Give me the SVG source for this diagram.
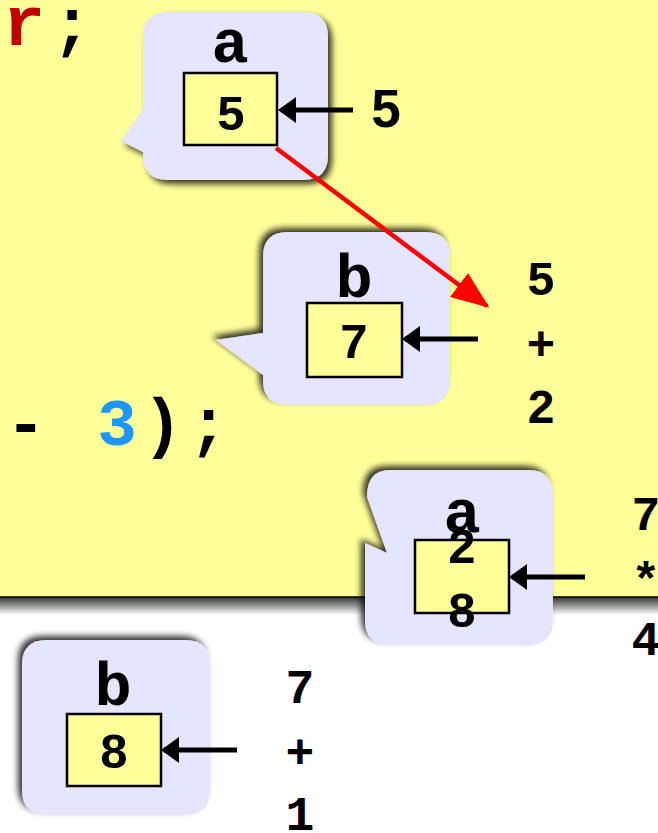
<svg xmlns="http://www.w3.org/2000/svg" width="658" height="833" viewBox="0 0 658 833">
<defs>
<style>
.code{font-family:"Liberation Mono","Courier New",monospace;font-weight:bold;font-size:66px;letter-spacing:6px}
.lbl{font-family:"Liberation Mono","Courier New",monospace;font-weight:bold;font-size:62px;text-anchor:middle;fill:#000}
.num{font-family:"Liberation Sans",Arial,sans-serif;font-weight:bold;font-size:49px;text-anchor:middle;fill:#000}
.col{font-family:"Liberation Mono","Courier New",monospace;font-weight:bold;font-size:48px;text-anchor:middle;fill:#000}
.bubble{fill:#E5E5FF}
.box{fill:#FFFF99;stroke:#000;stroke-width:2.5}
.arr{stroke:#000;stroke-width:5;fill:none;marker-end:url(#ah)}
.red{stroke:#FF0000;stroke-width:4.5;fill:none;marker-end:url(#rh)}
</style>
<marker id="ah" markerUnits="userSpaceOnUse" viewBox="0 0 18 26" markerWidth="18" markerHeight="26" refX="15" refY="13" orient="auto">
<path d="M0,0 L18,13 L0,26 Z" fill="#000"/>
</marker>
<marker id="rh" markerUnits="userSpaceOnUse" viewBox="0 0 38 30" markerWidth="38" markerHeight="30" refX="35" refY="15" orient="auto">
<path d="M0,0 L38,15 L0,30 Z" fill="#FF0000"/>
</marker>
<filter id="shBR" x="-20%" y="-20%" width="140%" height="140%">
<feGaussianBlur in="SourceAlpha" stdDeviation="3"/>
<feOffset dx="4" dy="4" result="b"/>
<feComponentTransfer><feFuncA type="linear" slope="0.8"/></feComponentTransfer>
<feMerge><feMergeNode/><feMergeNode in="SourceGraphic"/></feMerge>
</filter>
<filter id="shTL" x="-20%" y="-20%" width="140%" height="140%">
<feGaussianBlur in="SourceAlpha" stdDeviation="3"/>
<feOffset dx="-4" dy="-4" result="b"/>
<feComponentTransfer><feFuncA type="linear" slope="0.8"/></feComponentTransfer>
<feMerge><feMergeNode/><feMergeNode in="SourceGraphic"/></feMerge>
</filter>
<linearGradient id="bgsh" x1="0" y1="0" x2="0" y2="1">
<stop offset="0" stop-color="#000" stop-opacity="0.8"/>
<stop offset="1" stop-color="#000" stop-opacity="0"/>
</linearGradient>
</defs>
<rect width="658" height="833" fill="#FFFFFF"/>
<g id="background">
<rect x="0" y="0" width="658" height="597" fill="#FFFF99"/>
<rect x="0" y="597" width="658" height="18" fill="url(#bgsh)"/>
<line x1="0" y1="597" x2="658" y2="597" stroke="#000" stroke-width="1.5"/>
</g>
<g id="code">
<text class="code" y="45"><tspan x="-37" fill="#C00000">e</tspan><tspan x="3" fill="#C00000" style="font-size:70px">r</tspan><tspan x="52" fill="#000">;</tspan></text>
<text class="code" x="6" y="445" fill="#000">- <tspan fill="#1E96FF">3</tspan>);</text>
</g>
<g id="callout-a1">
<path class="bubble" filter="url(#shBR)" d="M168,12 H303 Q328,12 328,37 V155 Q328,180 303,180 H168 Q143,180 143,155 V152 L121,141 L143,109 V37 Q143,12 168,12 Z"/>
<text class="lbl" x="230" y="62">a</text>
<rect class="box" x="184" y="73" width="93" height="72"/>
<text class="num" x="231" y="130">5</text>
</g>
<g id="callout-b1">
<path class="bubble" filter="url(#shTL)" d="M288,232 H425 Q450,232 450,257 V380 Q450,405 425,405 H288 Q263,405 263,380 V375 L216,340 L263,333 V257 Q263,232 288,232 Z"/>
<text class="lbl" x="354" y="297">b</text>
<rect class="box" x="307" y="303" width="95" height="74"/>
<text class="num" x="354" y="358">7</text>
</g>
<g id="callout-a2">
<path class="bubble" filter="url(#shTL)" d="M390,470 H528 Q553,470 553,495 V620 Q553,645 528,645 H390 Q365,645 365,620 V543 L387,553 L367,497 Q367,470 390,470 Z"/>
<rect class="box" x="415" y="540" width="94" height="73"/>
<text class="num" x="462" y="563">2</text>
<text class="num" x="462" y="627">8</text>
<text class="lbl" x="462" y="532">a</text>
</g>
<g id="callout-b2">
<path class="bubble" filter="url(#shTL)" d="M47,640 H185 Q210,640 210,665 V790 Q210,815 185,815 H47 Q22,815 22,790 V665 Q22,640 47,640 Z"/>
<text class="lbl" x="113" y="705">b</text>
<rect class="box" x="67" y="714" width="94" height="72"/>
<text class="num" x="114" y="768">8</text>
</g>
<g id="connectors">
<line class="arr" x1="353" y1="110" x2="281" y2="110"/>
<line class="arr" x1="478" y1="339" x2="405" y2="339"/>
<line class="arr" x1="585" y1="577" x2="512" y2="577"/>
<line class="arr" x1="237" y1="750" x2="164" y2="750"/>
<line class="red" x1="276" y1="148" x2="487" y2="306"/>
</g>
<g id="values">
<text class="num" x="386" y="127" style="font-size:53px">5</text>
<text class="col" x="541" y="295">5</text>
<text class="col" x="541" y="360">+</text>
<text class="col" x="541" y="423">2</text>
<text class="col" x="646" y="530">7</text>
<text class="col" x="646" y="596">*</text>
<text class="col" x="646" y="655">4</text>
<text class="col" x="300" y="703">7</text>
<text class="col" x="300" y="768">+</text>
<text class="col" x="300" y="830">1</text>
</g>
</svg>
